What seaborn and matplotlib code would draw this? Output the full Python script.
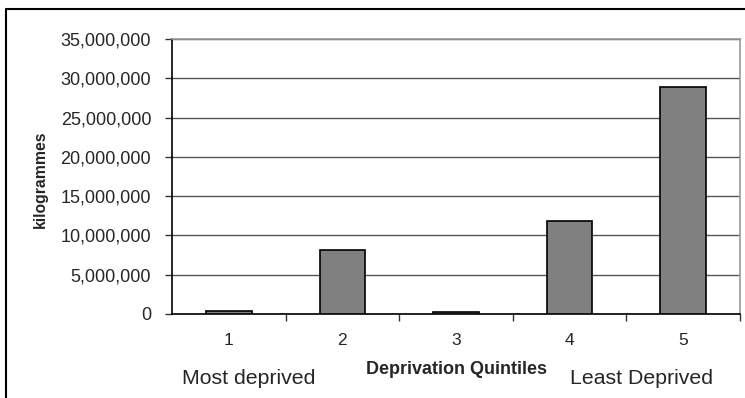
import matplotlib
matplotlib.use("Agg")
import matplotlib.pyplot as plt
from matplotlib.lines import Line2D
from matplotlib.ticker import FuncFormatter, FixedLocator
import seaborn as sns
import pandas as pd

# data
quintiles = ["1", "2", "3", "4", "5"]
kilogrammes = [400000, 8100000, 250000, 11800000, 28900000]

df = pd.DataFrame({"Quintile": quintiles, "kg": kilogrammes})

sns.set_style("white")
plt.rcParams["font.family"] = ["Liberation Sans", "DejaVu Sans"]

W, H = 745, 398
fig = plt.figure(figsize=(W / 100, H / 100), dpi=100)
ax = fig.add_axes([172 / W, 1 - 314 / H, (740 - 172) / W, (314 - 39) / H])

sns.barplot(x="Quintile", y="kg", data=df, color="#808080", width=0.4,
            edgecolor="black", linewidth=1.2, saturation=1, ax=ax, zorder=3)

ax.set_xlim(-0.5, 4.5)
ax.set_ylim(0, 35000000)
ax.set_yticks(range(0, 35000001, 5000000))
ax.yaxis.set_major_formatter(FuncFormatter(lambda v, p: f"{int(v):,}"))
ax.yaxis.grid(True, color="#555555", linewidth=1, zorder=0)
ax.set_axisbelow(True)

ax.tick_params(axis="y", left=True, length=5, width=1, color="#333333",
               pad=10, labelsize=13)
ax.tick_params(axis="x", bottom=False, pad=10, labelsize=12.5)
ax.xaxis.set_minor_locator(FixedLocator([0.5, 1.5, 2.5, 3.5, 4.5]))
ax.tick_params(axis="x", which="minor", bottom=True, length=5, width=1, color="#333333")

for side in ["left", "bottom"]:
    ax.spines[side].set_color("black")
    ax.spines[side].set_linewidth(1.2)
for side in ["top", "right"]:
    ax.spines[side].set_color("#999999")
    ax.spines[side].set_linewidth(1.2)

ax.set_xlabel("")
ax.set_ylabel("")

fig.text(40 / W, 1 - 179 / H, "kilogrammes", rotation=90, fontsize=11.3,
         fontweight="bold", ha="center", va="center")
fig.text(457 / W, 1 - 370 / H, "Deprivation Quintiles", fontsize=13,
         fontweight="bold", ha="center", va="center")
fig.text(249 / W, 1 - 378 / H, "Most deprived", fontsize=15.3, ha="center", va="center")
fig.text(642 / W, 1 - 378 / H, "Least Deprived", fontsize=15.3, ha="center", va="center")

# outer chart frame
fig.add_artist(Line2D([6 / W, 1], [1 - 9 / H, 1 - 9 / H], color="black", linewidth=1.5))
fig.add_artist(Line2D([6 / W, 6 / W], [0, 1 - 9 / H], color="black", linewidth=1.5))

fig.savefig("out.png", dpi=100)
